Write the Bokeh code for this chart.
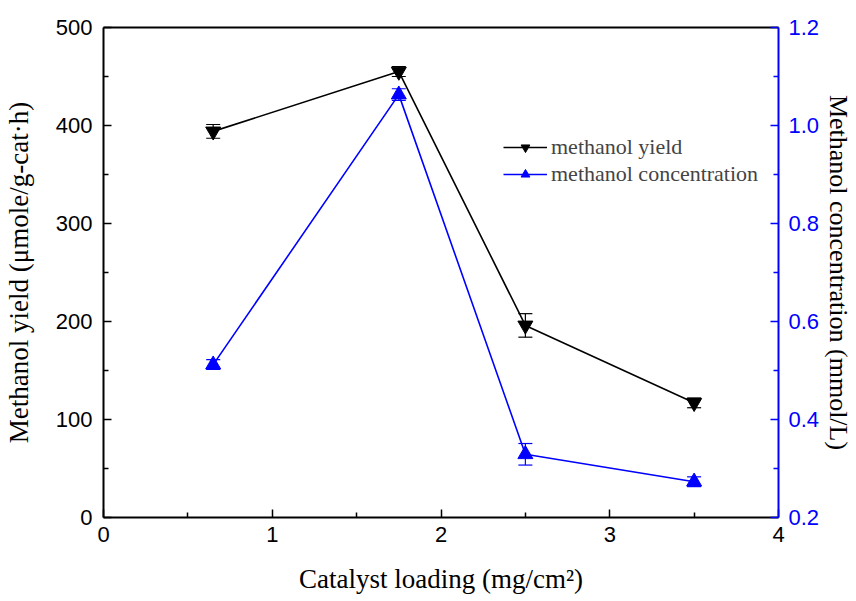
from bokeh.plotting import figure
from bokeh.models import (Range1d, LinearAxis, Whisker, TeeHead, ColumnDataSource,
                          Legend, LegendItem, FixedTicker)
from bokeh.embed import file_html
from bokeh.resources import INLINE

loading = [0.65, 1.75, 2.5, 3.5]
yield_vals = [394, 455, 196, 117]
yield_err = [7, 5, 12, 5]
conc_vals = [0.512, 1.063, 0.329, 0.273]
conc_err = [0.010, 0.012, 0.022, 0.010]

x_ticks = [0, 1, 2, 3, 4]
y_ticks = [0, 100, 200, 300, 400, 500]
y2_ticks = [0.2, 0.4, 0.6, 0.8, 1.0, 1.2]

BLUE = "#0000ff"
TICK_FONT = "Liberation Sans"
TITLE_FONT = "Liberation Serif"

p = figure(width=856, height=601, output_backend="svg", toolbar_location=None,
           x_range=Range1d(0, 4), y_range=Range1d(0, 500),
           min_border_left=103, min_border_right=78, min_border_top=27, min_border_bottom=84,
           x_axis_location=None, y_axis_location=None)
p.xgrid.visible = False
p.ygrid.visible = False
p.outline_line_color = None
p.background_fill_color = "white"
p.border_fill_color = "white"
p.extra_y_ranges = {"conc": Range1d(0.2, 1.2)}

def style(ax, color):
    ax.axis_line_color = color
    ax.axis_line_width = 2
    ax.major_tick_line_color = color
    ax.minor_tick_line_color = color
    ax.major_tick_line_width = 1.5
    ax.minor_tick_line_width = 1.5
    ax.major_tick_in = 8
    ax.major_tick_out = 0
    ax.minor_tick_in = 5
    ax.minor_tick_out = 0
    ax.major_label_text_color = color
    ax.major_label_text_font = TICK_FONT
    ax.major_label_text_font_size = "22px"
    ax.axis_label_text_font = TITLE_FONT
    ax.axis_label_text_font_size = "27px"
    ax.axis_label_text_font_style = "normal"
    ax.axis_label_text_color = "black"

xax = LinearAxis(axis_label="Catalyst loading (mg/cm\u00b2)")
xax.ticker = FixedTicker(ticks=x_ticks, minor_ticks=[0.5, 1.5, 2.5, 3.5])
style(xax, "black")
xax.major_label_standoff = 9
xax.axis_label_standoff = 19
p.add_layout(xax, "below")

yax = LinearAxis(axis_label="Methanol yield (\u03bcmole/g-cat\u00b7h)")
yax.ticker = FixedTicker(ticks=y_ticks, minor_ticks=[50, 150, 250, 350, 450])
style(yax, "black")
yax.major_label_standoff = 11
yax.axis_label_standoff = 19
p.add_layout(yax, "left")

y2ax = LinearAxis(y_range_name="conc", axis_label="Methanol concentration (mmol/L)")
y2ax.ticker = FixedTicker(ticks=y2_ticks, minor_ticks=[0.3, 0.5, 0.7, 0.9, 1.1])
style(y2ax, BLUE)
y2ax.axis_label_text_font_size = "26px"
y2ax.major_label_standoff = 10
y2ax.axis_label_standoff = 2
y2ax.major_label_overrides = {0.2: "0.2", 0.4: "0.4", 0.6: "0.6", 0.8: "0.8", 1.0: "1.0", 1.2: "1.2"}
p.add_layout(y2ax, "right")

topax = LinearAxis(ticker=FixedTicker(ticks=[]))
topax.axis_line_color = "black"
topax.axis_line_width = 2
topax.major_label_text_font_size = "0px"
topax.major_tick_line_color = None
topax.minor_tick_line_color = None
p.add_layout(topax, "above")

src_y = ColumnDataSource(dict(x=loading, y=yield_vals,
                              lo=[v - e for v, e in zip(yield_vals, yield_err)],
                              hi=[v + e for v, e in zip(yield_vals, yield_err)]))
src_c = ColumnDataSource(dict(x=loading, y=conc_vals,
                              lo=[v - e for v, e in zip(conc_vals, conc_err)],
                              hi=[v + e for v, e in zip(conc_vals, conc_err)]))

wy = Whisker(source=src_y, base="x", lower="lo", upper="hi", line_color="black", line_width=1.2,
             upper_head=TeeHead(size=14, line_color="black", line_width=1.2),
             lower_head=TeeHead(size=14, line_color="black", line_width=1.2))
p.add_layout(wy)
wc = Whisker(source=src_c, base="x", lower="lo", upper="hi", line_color=BLUE, line_width=1.2,
             y_range_name="conc",
             upper_head=TeeHead(size=14, line_color=BLUE, line_width=1.2),
             lower_head=TeeHead(size=14, line_color=BLUE, line_width=1.2))
p.add_layout(wc)

ly = p.line("x", "y", source=src_y, line_color="black", line_width=1.6)
sy = p.scatter("x", "y", source=src_y, marker="inverted_triangle", size=15,
               fill_color="black", line_color="black")
lc = p.line("x", "y", source=src_c, line_color=BLUE, line_width=1.6, y_range_name="conc")
sc = p.scatter("x", "y", source=src_c, marker="triangle", size=15,
               fill_color=BLUE, line_color=BLUE, y_range_name="conc")

legend = Legend(items=[LegendItem(label="methanol yield", renderers=[ly, sy]),
                       LegendItem(label="methanol concentration", renderers=[lc, sc])],
                location=(400, 330))
legend.border_line_color = None
legend.background_fill_alpha = 0
legend.padding = 0
legend.margin = 0
legend.spacing = 1
legend.glyph_width = 44
legend.glyph_height = 22
legend.label_height = 22
legend.label_standoff = 4
legend.label_text_font = TITLE_FONT
legend.label_text_font_size = "22px"
p.add_layout(legend, "center")

open("out.html", "w").write(file_html(p, INLINE))
